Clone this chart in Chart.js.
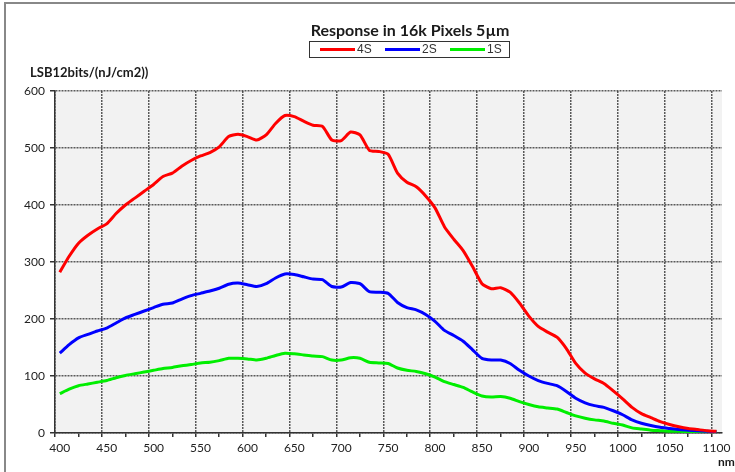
<!DOCTYPE html>
<html><head><meta charset="utf-8">
<script src="https://cdn.jsdelivr.net/npm/chart.js@4.4.0/dist/chart.umd.min.js"></script>
<style>
html,body{margin:0;padding:0;background:#fff;overflow:hidden;}
#wrap{position:relative;width:735px;height:472px;}
canvas{display:block;}
</style></head><body>
<div id="wrap"><canvas id="c" width="735" height="472"></canvas></div>
<script>
const chartTitle = 'Response in 16k Pixels 5µm';
const yAxisTitle = 'LSB12bits/(nJ/cm2))';
const xAxisUnit = 'nm';
const seriesNames = ['4S', '2S', '1S'];
const seriesColors = ['#ff0000', '#0000ff', '#00ee00'];

const wavelengths = [400,410,420,430,440,450,460,470,480,490,500,510,520,530,540,550,560,570,580,590,
  600,610,620,630,640,650,660,670,680,690,700,710,720,730,740,750,760,770,780,790,
  800,810,820,830,840,850,860,870,880,890,900,910,920,930,940,950,960,970,980,990,
  1000,1010,1020,1030,1040,1050,1060,1070,1080,1090,1100];

const resp4S = [282,310,333,347,358,367,385,400,412,424,436,450,456,468,478,486,492,502,520,524,
  520,514,523,543,557,555,547,540,538,514,513,528,523,496,494,489,456,440,432,416,
  395,362,340,320,292,262,253,255,247,228,205,187,177,168,148,122,105,95,87,74,
  60,45,34,27,20,15,11,8,6,4,3];

const resp2S = [140,155,167,173,179,184,193,202,208,214,220,226,228,235,241,245,249,254,261,263,
  260,257,262,272,279,278,274,270,269,257,256,264,262,248,247,245,229,220,216,208,
  196,180,171,161,146,131,128,128,122,110,100,92,87,83,73,61,53,48,45,39,
  32,23,17,13,10,8,6,5,4,3,2];

const resp1S = [69,77,83,86,89,92,97,101,104,107,110,113,115,118,120,123,124,127,131,131,
  130,128,131,136,140,139,137,135,134,128,128,132,131,124,123,122,114,110,108,104,
  98,90,85,80,72,65,63,64,61,55,50,46,44,42,36,30,26,23,21,17,
  14,9,7,5,4,3,3,2,2,2,2];

const xTickLabels = [400,450,500,550,600,650,700,750,800,850,900,950,1000,1050,1100];
const yTickLabels = [0,100,200,300,400,500,600];

// style constants
const GRID_SHIFT = 5.1;   // grid lines sit slightly left of the label positions (nm)
const X_MIN = 394.9, X_MAX = 1105.9;
const FONT = 'Lato, "Open Sans", sans-serif';
const GRID_COLOR = 'rgba(50,50,50,0.8)';

const seriesValues = [resp4S, resp2S, resp1S];

const decorPlugin = {
  id: 'decor',
  beforeDraw(chart) {
    const ctx = chart.ctx, a = chart.chartArea;
    ctx.save();
    ctx.fillStyle = '#fff';
    ctx.fillRect(0, 0, chart.width, chart.height);
    ctx.fillStyle = '#f2f2f2';
    ctx.fillRect(a.left, a.top, a.right - a.left, a.bottom - a.top);
    ctx.strokeStyle = '#888';
    ctx.lineWidth = 2;
    ctx.strokeRect(5, 3, chart.width + 20, chart.height + 20);
    ctx.restore();
  },
  afterDraw(chart) {
    const ctx = chart.ctx;
    ctx.save();
    // title
    ctx.fillStyle = '#1a1a1a';
    ctx.font = 'bold 16px ' + FONT;
    ctx.textAlign = 'center';
    ctx.textBaseline = 'middle';
    ctx.fillText(chartTitle, 410, 31);
    // legend box
    ctx.strokeStyle = '#333';
    ctx.lineWidth = 1;
    ctx.strokeRect(309.5, 41.5, 200, 16);
    ctx.font = '12px "Liberation Sans", Arial, sans-serif';
    ctx.textAlign = 'left';
    chart.data.datasets.forEach((ds, i) => {
      const x0 = 320 + i * 65;
      ctx.strokeStyle = ds.borderColor;
      ctx.lineWidth = 3;
      ctx.beginPath();
      ctx.moveTo(x0, 49.5);
      ctx.lineTo(x0 + 35, 49.5);
      ctx.stroke();
      ctx.fillStyle = '#333';
      ctx.fillText(ds.label, x0 + 37, 50);
    });
    // axis titles
    ctx.fillStyle = '#1a1a1a';
    ctx.font = 'bold 13px ' + FONT;
    ctx.textAlign = 'left';
    ctx.fillText(yAxisTitle, 30, 73);
    ctx.font = 'bold 12px ' + FONT;
    ctx.fillText(xAxisUnit, 718, 462);
    ctx.restore();
  }
};

const gridColor = (c) => c.tick && c.tick.major ? GRID_COLOR : 'rgba(0,0,0,0)';

new Chart(document.getElementById('c'), {
  type: 'line',
  data: {
    datasets: seriesNames.map((name, i) => ({
      label: name,
      data: wavelengths.map((w, j) => ({ x: w, y: seriesValues[i][j] })),
      borderColor: seriesColors[i],
      backgroundColor: seriesColors[i],
      borderWidth: 3,
      pointRadius: 0,
      tension: 0.2,
      fill: false
    }))
  },
  options: {
    responsive: false,
    animation: false,
    events: [],
    layout: { padding: { left: 0, top: 91, right: 13, bottom: 9 } },
    plugins: { legend: { display: false }, title: { display: false }, tooltip: { enabled: false } },
    scales: {
      x: {
        type: 'linear',
        min: X_MIN,
        max: X_MAX,
        afterBuildTicks(scale) {
          const t = [];
          for (let k = 0; k < xTickLabels.length * 2 - 1; k++) {
            t.push({ value: xTickLabels[0] - GRID_SHIFT + k * (xTickLabels[1] - xTickLabels[0]) / 2, major: k % 2 === 0 });
          }
          scale.ticks = t;
        },
        afterFit(scale) { scale.height = 30; },
        ticks: {
          autoSkip: false,
          maxRotation: 0,
          padding: 4,
          labelOffset: 4.8,
          color: '#222',
          font: { family: FONT, size: 12 },
          callback: (v, i) => (i % 2 === 0 ? String(xTickLabels[i / 2]) : '')
        },
        grid: {
          color: gridColor,
          lineWidth: 1.5,
          tickColor: '#333',
          tickLength: 4,
          drawTicks: true
        },
        border: { display: true, color: '#333', width: 1.5, dash: [2, 1] }
      },
      y: {
        type: 'linear',
        min: yTickLabels[0],
        max: yTickLabels[yTickLabels.length - 1],
        afterBuildTicks(scale) { scale.ticks = yTickLabels.map(v => ({ value: v })); },
        afterFit(scale) { scale.width = 55; },
        ticks: {
          padding: 5,
          color: '#222',
          font: { family: FONT, size: 12 },
          callback: (v) => String(v)
        },
        grid: {
          color: GRID_COLOR,
          lineWidth: 1.5,
          tickColor: '#333',
          tickLength: 5
        },
        border: { display: true, color: '#333', width: 1.5, dash: [2, 1] }
      }
    }
  },
  plugins: [decorPlugin]
});
</script>
</body></html>
